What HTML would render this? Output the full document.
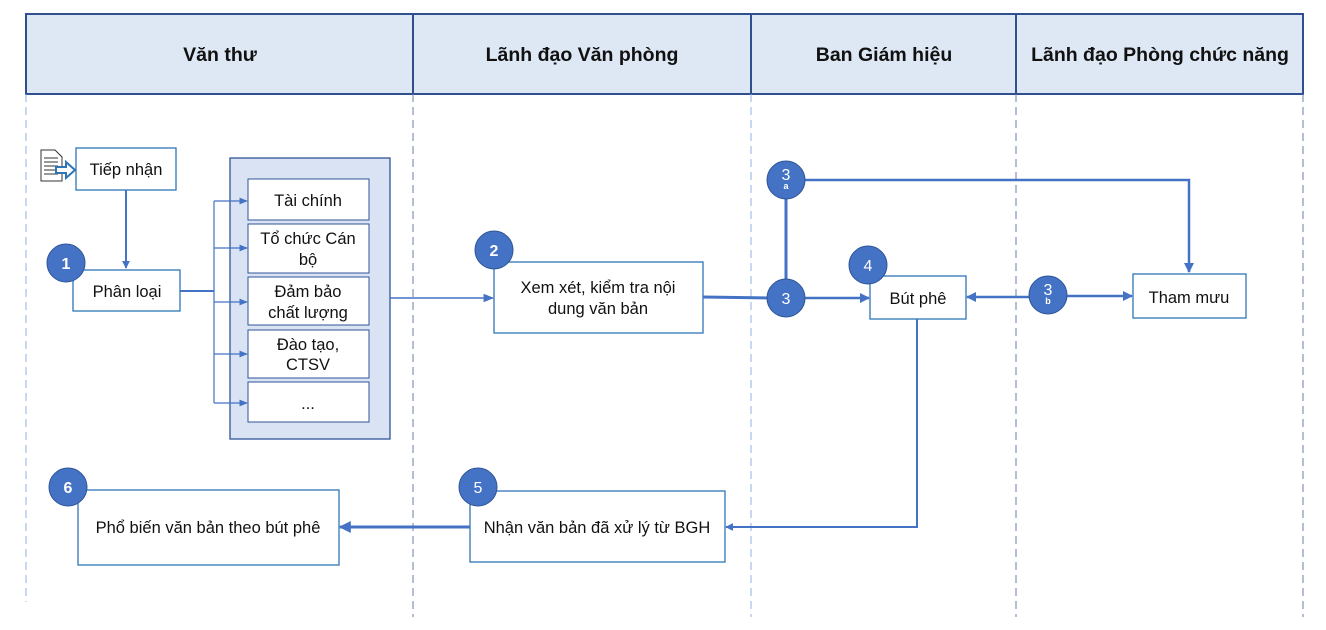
<!DOCTYPE html>
<html><head><meta charset="utf-8"><style>
html,body{margin:0;padding:0;background:#fff;width:1326px;height:630px;overflow:hidden}
svg{display:block;font-family:"Liberation Sans",Arial,sans-serif}
</style></head><body>
<svg width="1326" height="630" viewBox="0 0 1326 630">
<defs>
<marker id="a" viewBox="0 0 10 10" refX="9" refY="5" markerWidth="4" markerHeight="4" orient="auto"><path d="M0,0L10,5L0,10z" fill="#4472c4"/></marker>
<marker id="s" viewBox="0 0 10 10" refX="9" refY="5" markerWidth="7" markerHeight="7" orient="auto"><path d="M0,1L10,5L0,9z" fill="#4472c4"/></marker>
</defs>
<rect x="26" y="14" width="1277" height="80" fill="#dee8f5" stroke="#2f4f8f" stroke-width="2"/>
<g stroke="#2f4f8f" stroke-width="2"><line x1="413" y1="14" x2="413" y2="94"/><line x1="751" y1="14" x2="751" y2="94"/><line x1="1016" y1="14" x2="1016" y2="94"/></g>
<g font-size="19.5" font-weight="bold" text-anchor="middle" fill="#111">
<text x="220" y="61">Văn thư</text><text x="582" y="61">Lãnh đạo Văn phòng</text><text x="884" y="61">Ban Giám hiệu</text><text x="1160" y="61">Lãnh đạo Phòng chức năng</text></g>
<g stroke-dasharray="8,5" stroke-width="1">
<line x1="26" y1="94" x2="26" y2="602" stroke="#8fb0e0"/>
<line x1="413" y1="94" x2="413" y2="617" stroke="#6a7fa8"/>
<line x1="751" y1="94" x2="751" y2="617" stroke="#8fb0e0"/>
<line x1="1016" y1="94" x2="1016" y2="617" stroke="#6a7fa8"/>
<line x1="1303" y1="94" x2="1303" y2="617" stroke="#6a7fa8"/>
</g>
<path d="M41,150h14l7,7v24h-21z" fill="#fff" stroke="#333" stroke-width="1"/>
<g stroke="#333" stroke-width="1"><line x1="44" y1="158" x2="58" y2="158"/><line x1="44" y1="162" x2="58" y2="162"/><line x1="44" y1="166" x2="58" y2="166"/><line x1="44" y1="170" x2="58" y2="170"/><line x1="44" y1="174" x2="58" y2="174"/></g>
<path d="M56,167h10v-5l9,8l-9,8v-5h-10z" fill="#fff" stroke="#2e75b6" stroke-width="2"/>
<g fill="#fff" stroke="#2e75b6" stroke-width="1.3">
<rect x="76" y="148" width="100" height="42"/>
<rect x="73" y="270" width="107" height="41"/>
</g>
<rect x="230" y="158" width="160" height="281" fill="#dae3f3" stroke="#2f5597" stroke-width="1.3"/>
<g fill="#fff" stroke="#2f5597" stroke-width="1">
<rect x="248" y="179" width="121" height="41"/><rect x="248" y="224" width="121" height="49"/><rect x="248" y="277" width="121" height="48"/><rect x="248" y="330" width="121" height="48"/><rect x="248" y="382" width="121" height="40"/>
</g>
<g fill="#fff" stroke="#2e75b6" stroke-width="1.3">
<rect x="494" y="262" width="209" height="71"/>
<rect x="870" y="276" width="96" height="43"/>
<rect x="1133" y="274" width="113" height="44"/>
<rect x="470" y="491" width="255" height="71"/>
<rect x="78" y="490" width="261" height="75"/>
</g>
<g stroke="#4472c4" fill="none">
<line x1="126" y1="190" x2="126" y2="268" stroke-width="2" marker-end="url(#a)"/>
<line x1="180" y1="291" x2="214" y2="291" stroke-width="2"/>
<line x1="214" y1="201" x2="214" y2="403" stroke-width="1.2"/>
<g stroke-width="1.2" marker-end="url(#s)"><line x1="214" y1="201" x2="247" y2="201"/><line x1="214" y1="248" x2="247" y2="248"/><line x1="214" y1="302" x2="247" y2="302"/><line x1="214" y1="354" x2="247" y2="354"/><line x1="214" y1="403" x2="247" y2="403"/></g>
<line x1="390" y1="298" x2="493" y2="298" stroke-width="1.5" marker-end="url(#s)"/>
<line x1="703" y1="297" x2="770" y2="298" stroke-width="3"/>
<line x1="805" y1="298" x2="869" y2="298" stroke-width="2.5" marker-end="url(#a)"/>
<line x1="786" y1="199" x2="786" y2="280" stroke-width="3"/>
<polyline points="805,180 1189,180 1189,272" stroke-width="2.5" marker-end="url(#a)"/>
<line x1="1030" y1="297" x2="967" y2="297" stroke-width="2.5" marker-end="url(#a)"/>
<line x1="1066" y1="296" x2="1132" y2="296" stroke-width="2.5" marker-end="url(#a)"/>
<polyline points="917,319 917,527 726,527" stroke-width="2" marker-end="url(#a)"/>
<line x1="470" y1="527" x2="340" y2="527" stroke-width="3" marker-end="url(#a)"/>
</g>
<g fill="#4472c4" stroke="#2f5597" stroke-width="1">
<circle cx="66" cy="263" r="19"/><circle cx="494" cy="250" r="19"/><circle cx="786" cy="298" r="19"/><circle cx="786" cy="180" r="19"/><circle cx="868" cy="265" r="19"/><circle cx="1048" cy="295" r="19"/><circle cx="478" cy="487" r="19"/><circle cx="68" cy="487" r="19"/>
</g>
<g fill="#fff" font-size="16" text-anchor="middle">
<text x="66" y="269" font-weight="bold">1</text><text x="494" y="256" font-weight="bold">2</text><text x="786" y="304">3</text><text x="868" y="271">4</text><text x="478" y="493">5</text><text x="68" y="493" font-weight="bold">6</text>
<text x="786" y="180">3</text><text x="786" y="189" font-size="9" font-weight="bold">a</text>
<text x="1048" y="295">3</text><text x="1048" y="304" font-size="9" font-weight="bold">b</text>
</g>
<g font-size="16.5" fill="#111" text-anchor="middle">
<text x="126" y="175">Tiếp nhận</text>
<text x="127" y="297">Phân loại</text>
<text x="308" y="206">Tài chính</text>
<text x="308" y="244">Tổ chức Cán</text><text x="308" y="265">bộ</text>
<text x="308" y="297">Đảm bảo</text><text x="308" y="318">chất lượng</text>
<text x="308" y="350">Đào tạo,</text><text x="308" y="370">CTSV</text>
<text x="308" y="409">...</text>
<text x="598" y="293">Xem xét, kiểm tra nội</text><text x="598" y="314">dung văn bản</text>
<text x="918" y="304">Bút phê</text>
<text x="1189" y="303">Tham mưu</text>
<text x="597" y="533">Nhận văn bản đã xử lý từ BGH</text>
<text x="208" y="533">Phổ biến văn bản theo bút phê</text>
</g>
</svg>
</body></html>
